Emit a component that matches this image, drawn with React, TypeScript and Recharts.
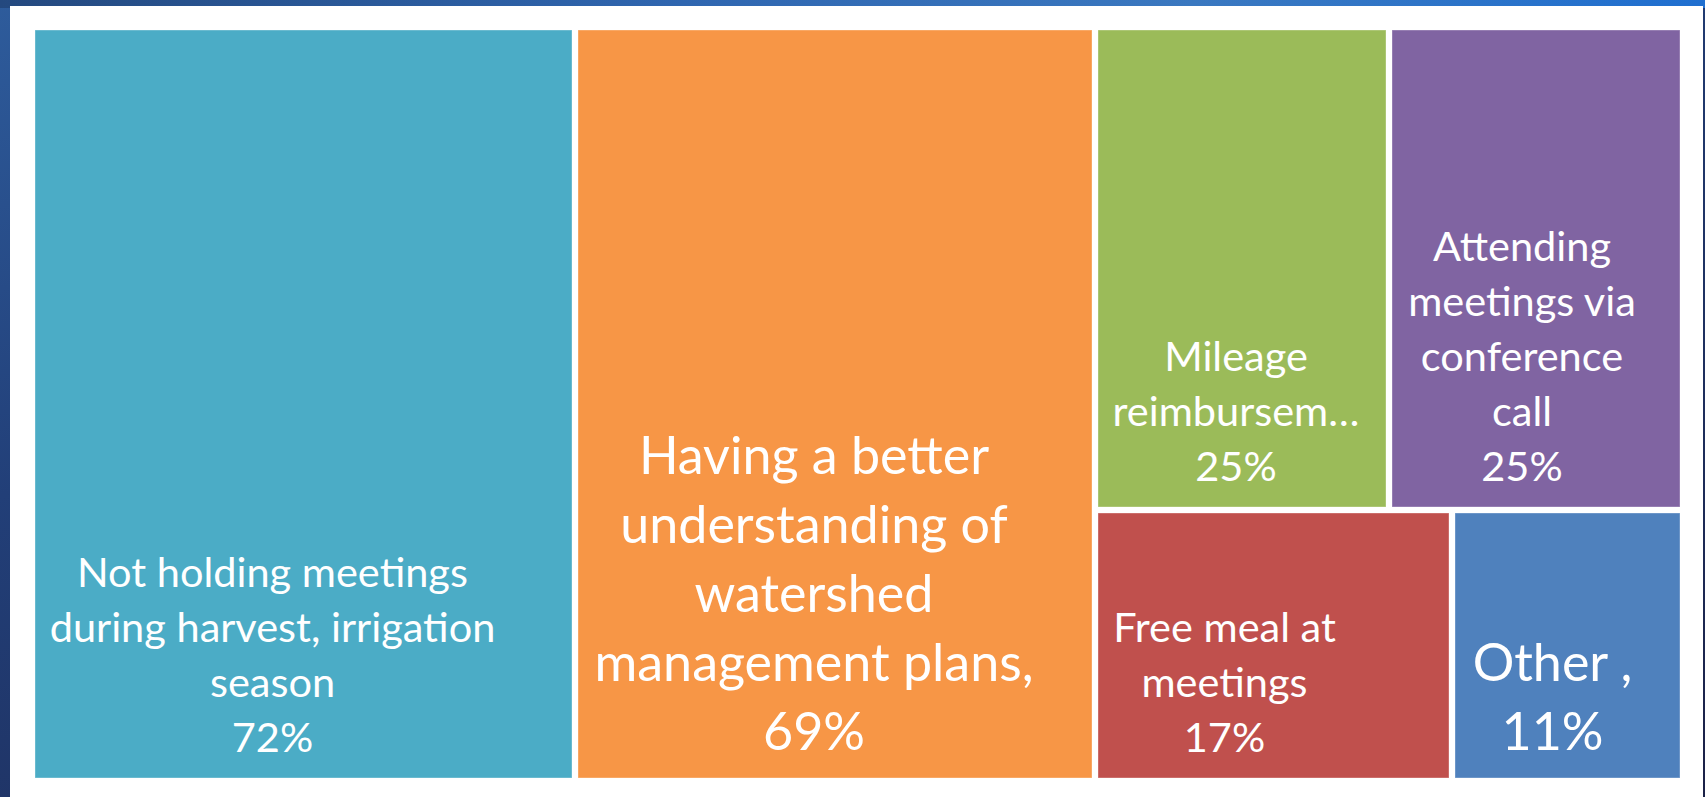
import React from 'react';
import { Treemap } from 'recharts';

// survey categories and their shares (%)
const categories = [
  'Not holding meetings during harvest, irrigation season',
  'Having a better understanding of watershed management plans',
  'Mileage reimbursement',
  'Attending meetings via conference call',
  'Free meal at meetings',
  'Other',
];
const values = [72, 69, 25, 25, 17, 11];
const labelLines = [
  ['Not holding meetings', 'during harvest, irrigation', 'season'],
  ['Having a better', 'understanding of', 'watershed', 'management plans,'],
  ['Mileage', 'reimbursem\u2026'],
  ['Attending', 'meetings via', 'conference', 'call'],
  ['Free meal at', 'meetings'],
  ['Other ,'],
];

const colors = ['#4BACC6', '#F79646', '#9BBB59', '#8064A2', '#C0504D', '#4F81BD'];
const labelShift = [-31, -21, -6, -14, -49, -15];
const bigLabel = [false, true, false, false, false, true];

const data = categories.map((name, i) => ({ name, size: values[i] }));

const GAP = 3;

const TreemapCell = (props: any) => {
  const { x, y, width, height, depth, name } = props;
  if (depth !== 1) return null;
  const i = categories.indexOf(name);
  if (i < 0) return null;

  const big = bigLabel[i];
  const fontSize = big ? 52 : 41.5;
  const lineH = big ? 69 : 55;
  const lines = [...labelLines[i], `${values[i]}%`];
  const cx = x + width / 2 + labelShift[i];
  const lastBase = y + height - GAP - (big ? 28 : 26);

  return (
    <g>
      <rect
        x={x + GAP}
        y={y + GAP}
        width={width - GAP * 2}
        height={height - GAP * 2}
        fill={colors[i]}
        stroke="rgba(255,255,255,0.35)"
        strokeWidth={1}
      />
      {lines.map((line, k) => (
        <text
          key={k}
          x={cx}
          y={lastBase - (lines.length - 1 - k) * lineH}
          textAnchor="middle"
          fill="#FFFFFF"
          fontSize={fontSize}
          fontFamily="Lato, 'Open Sans', sans-serif"
        >
          {line}
        </text>
      ))}
    </g>
  );
};

export default function App() {
  return (
    <div
      style={{
        position: 'fixed',
        left: 0,
        top: 0,
        width: 1705,
        height: 797,
        overflow: 'hidden',
        background: 'linear-gradient(160deg, #2e5c9c 0%, #223f78 35%, #1b2147 100%)',
      }}
    >
      {/* top strip glow */}
      <div
        style={{
          position: 'absolute',
          left: 0,
          top: 0,
          width: 1705,
          height: 8,
          background: 'linear-gradient(90deg, #24497f 0%, #2f66b0 40%, #3a78c0 70%, #1f6fd0 100%)',
        }}
      />
      <div
        style={{
          position: 'absolute',
          left: 10,
          top: 6,
          width: 1693,
          height: 800,
          background: '#FFFFFF',
        }}
      />
      <div style={{ position: 'absolute', left: 32, top: 27 }}>
        <Treemap
          width={1651}
          height={754}
          data={data}
          dataKey="size"
          nameKey="name"
          aspectRatio={1}
          isAnimationActive={false}
          content={<TreemapCell />}
        />
      </div>
    </div>
  );
}
